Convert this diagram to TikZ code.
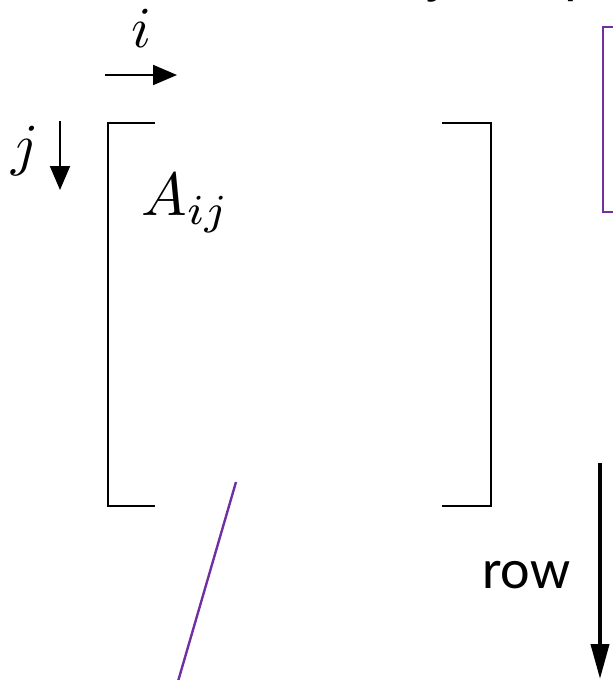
\documentclass[tikz,border=0pt]{standalone}
\usepackage{fontspec}
\newfontfamily\carlito{Carlito}
\usetikzlibrary{arrows.meta}
\definecolor{mypurple}{HTML}{7030A0}
\tikzset{
  brk/.style={line width=2.5pt, black},
  purp/.style={line width=2.4pt, mypurple},
  mathlbl/.style={inner sep=0pt, scale=5.8},
  smallarrow/.style={line width=2pt, -{Triangle[length=24pt,width=20pt]}},
  bigarrow/.style={line width=4pt, -{Triangle[length=35pt,width=18pt]}}
}
\begin{document}
\begin{tikzpicture}[x=1pt,y=-1pt]
\useasboundingbox (0,0) rectangle (613,680);
\clip (0,0) rectangle (613,680);
% cut-off title
\node[anchor=base west, inner sep=0pt, font=\carlito\fontsize{57}{60}\selectfont] (title) at (160,-7) {Column-major Representation};
% index labels
\node[mathlbl, anchor=base] (ilbl) at (141,47) {$i$};
\coordinate (ia) at (105,75);
\coordinate (ib) at (177,75);
\draw[smallarrow] (ia) -- (ib);
\node[mathlbl, anchor=base] (jlbl) at (25,164) {$j$};
\coordinate (ja) at (60,121);
\coordinate (jb) at (60,190);
\draw[smallarrow] (ja) -- (jb);
% matrix brackets
\coordinate (lt) at (108,123);
\coordinate (lb) at (108,506);
\coordinate (rt) at (491,123);
\coordinate (rb) at (491,506);
\draw[brk] (155,123) -- (lt) -- (lb) -- (155,506);
\draw[brk] (442,123) -- (rt) -- (rb) -- (442,506);
\node[mathlbl, scale=1.05, anchor=base west] (aij) at (140,215) {$A_{ij}$};
% purple memory box and line
\draw[purp] (640,27) -- (603,27) -- (603,212) -- (640,212);
\coordinate (pa) at (236,482);
\coordinate (pb) at (175.5,690);
\draw[purp] (pa) -- (pb);
% row arrow
\coordinate (ra) at (600,463);
\coordinate (rb2) at (600,679);
\draw[bigarrow] (ra) -- (rb2);
\node[anchor=base west, inner sep=0pt, font=\carlito\fontsize{56}{58}\selectfont] (rowlbl) at (482,588) {row};
\end{tikzpicture}
\end{document}
